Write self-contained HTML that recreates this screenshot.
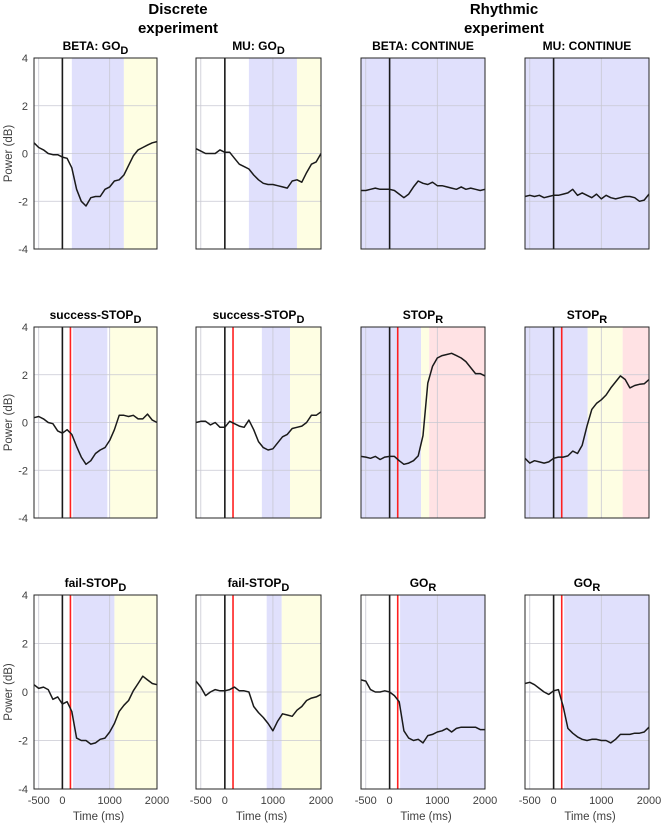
<!DOCTYPE html>
<html><head><meta charset="utf-8"><style>
body{margin:0;background:#fff;width:664px;height:828px;overflow:hidden}
svg{display:block;font-family:"Liberation Sans",Arial,sans-serif}
</style></head><body>
<svg id="fig" width="664" height="828" xmlns="http://www.w3.org/2000/svg">
<text x="178" y="14" text-anchor="middle" font-size="15" font-weight="bold" fill="#000">Discrete</text>
<text x="178" y="33" text-anchor="middle" font-size="15" font-weight="bold" fill="#000">experiment</text>
<text x="504" y="14" text-anchor="middle" font-size="15" font-weight="bold" fill="#000">Rhythmic</text>
<text x="504" y="33" text-anchor="middle" font-size="15" font-weight="bold" fill="#000">experiment</text>
</svg>
<script>
const times=[-600,-500,-400,-300,-200,-100,0,100,200,300,400,500,600,700,800,900,1000,1100,1200,1300,1400,1500,1600,1700,1800,1900,2000];
const xTicks=[-500,0,1000,2000];
const yTicks=[-4,-2,0,2,4];
const betaGoD=[0.45,0.25,0.15,0.0,-0.05,-0.05,-0.15,-0.2,-0.6,-1.5,-2.0,-2.2,-1.85,-1.8,-1.8,-1.5,-1.4,-1.15,-1.1,-0.9,-0.5,-0.1,0.15,0.25,0.35,0.45,0.5];
const muGoD=[0.2,0.1,0.0,0.0,0.0,0.15,0.05,0.05,-0.2,-0.45,-0.55,-0.65,-0.9,-1.1,-1.25,-1.3,-1.3,-1.35,-1.4,-1.45,-1.15,-1.1,-1.2,-0.8,-0.45,-0.35,0.0];
const betaCont=[-1.55,-1.55,-1.5,-1.45,-1.5,-1.5,-1.5,-1.55,-1.7,-1.85,-1.7,-1.4,-1.15,-1.25,-1.3,-1.2,-1.35,-1.35,-1.4,-1.45,-1.5,-1.4,-1.5,-1.45,-1.5,-1.55,-1.5];
const muCont=[-1.8,-1.75,-1.8,-1.75,-1.85,-1.8,-1.75,-1.75,-1.7,-1.65,-1.5,-1.75,-1.65,-1.75,-1.85,-1.7,-1.9,-1.75,-1.85,-1.9,-1.85,-1.8,-1.8,-1.85,-2.0,-1.95,-1.7];
const betaSStop=[0.2,0.25,0.15,0.0,-0.05,-0.35,-0.45,-0.3,-0.5,-1.0,-1.45,-1.75,-1.6,-1.3,-1.15,-1.05,-0.75,-0.3,0.3,0.3,0.25,0.3,0.15,0.15,0.35,0.1,0.0];
const muSStop=[0.0,0.05,0.05,-0.1,0.0,-0.2,-0.2,0.05,-0.05,-0.15,-0.2,0.1,-0.3,-0.8,-1.05,-1.15,-1.1,-0.85,-0.6,-0.5,-0.25,-0.2,-0.15,0.0,0.3,0.3,0.45];
const betaStopR=[-1.42,-1.45,-1.5,-1.42,-1.55,-1.45,-1.42,-1.42,-1.6,-1.75,-1.7,-1.6,-1.4,-0.55,1.65,2.35,2.7,2.8,2.85,2.9,2.8,2.7,2.55,2.3,2.05,2.05,1.95];
const muStopR=[-1.5,-1.7,-1.6,-1.65,-1.7,-1.65,-1.5,-1.45,-1.45,-1.4,-1.2,-1.3,-0.95,-0.15,0.55,0.8,0.95,1.15,1.45,1.7,1.95,1.8,1.45,1.55,1.6,1.62,1.8];
const betaFStop=[0.3,0.15,0.2,0.1,-0.3,-0.2,-0.5,-0.4,-0.8,-1.9,-2.0,-2.0,-2.15,-2.1,-1.95,-1.9,-1.65,-1.3,-0.8,-0.55,-0.35,0.05,0.35,0.65,0.5,0.35,0.3];
const muFStop=[0.45,0.2,-0.15,0.0,0.1,0.05,0.05,0.1,0.2,0.05,0.05,0.0,-0.6,-0.85,-1.05,-1.3,-1.6,-1.2,-0.9,-0.95,-1.0,-0.75,-0.6,-0.35,-0.25,-0.2,-0.1];
const betaGoR=[0.5,0.45,0.1,0.0,0.0,0.05,0.0,-0.15,-0.4,-1.6,-1.9,-2.0,-1.95,-2.1,-1.8,-1.75,-1.65,-1.6,-1.5,-1.65,-1.5,-1.45,-1.45,-1.45,-1.45,-1.55,-1.55];
const muGoR=[0.35,0.4,0.3,0.15,0.0,-0.1,0.05,0.1,-0.6,-1.5,-1.7,-1.85,-1.95,-2.0,-1.95,-1.95,-2.0,-2.0,-2.1,-1.95,-1.75,-1.75,-1.75,-1.7,-1.7,-1.65,-1.45];

const B='#e0e0fc',Y='#fefee3',R='#ffe2e4';
const colX=[[34,157],[196,321],[361,485],[525,649]];
const rowY=[[58,249],[327,518],[595,789]];
const panels=[
 {r:0,c:0,t:'BETA: GO',s:'D',d:betaGoD,red:false,sh:[[200,1300,B],[1300,2000,Y]]},
 {r:0,c:1,t:'MU: GO',s:'D',d:muGoD,red:false,sh:[[500,1500,B],[1500,2000,Y]]},
 {r:0,c:2,t:'BETA: CONTINUE',s:'',d:betaCont,red:false,sh:[[-600,2000,B]]},
 {r:0,c:3,t:'MU: CONTINUE',s:'',d:muCont,red:false,sh:[[-600,2000,B]]},
 {r:1,c:0,t:'success-STOP',s:'D',d:betaSStop,red:true,sh:[[220,950,B],[1000,2000,Y]]},
 {r:1,c:1,t:'success-STOP',s:'D',d:muSStop,red:true,sh:[[770,1355,B],[1355,2000,Y]]},
 {r:1,c:2,t:'STOP',s:'R',d:betaStopR,red:true,sh:[[-600,660,B],[660,830,Y],[830,2000,R]]},
 {r:1,c:3,t:'STOP',s:'R',d:muStopR,red:true,sh:[[-600,714,B],[714,1448,Y],[1448,2000,R]]},
 {r:2,c:0,t:'fail-STOP',s:'D',d:betaFStop,red:true,sh:[[225,1100,B],[1100,2000,Y]]},
 {r:2,c:1,t:'fail-STOP',s:'D',d:muFStop,red:true,sh:[[870,1183,B],[1183,2000,Y]]},
 {r:2,c:2,t:'GO',s:'R',d:betaGoR,red:true,sh:[[220,2000,B]]},
 {r:2,c:3,t:'GO',s:'R',d:muGoR,red:true,sh:[[220,2000,B]]}
];
const NS='http://www.w3.org/2000/svg';
const svg=document.getElementById('fig');
function mk(tag,attrs,parent){const e=document.createElementNS(NS,tag);for(const k in attrs)e.setAttribute(k,attrs[k]);(parent||svg).appendChild(e);return e;}
panels.forEach((p,i)=>{
 const [x0,x1]=colX[p.c],[y0,y1]=rowY[p.r];
 const sx=v=>x0+(v+600)/2600*(x1-x0);
 const sy=v=>y1-(v+4)/8*(y1-y0);
 const g=mk('g',{});
 
 
 p.sh.forEach(s=>{
  const r=mk('rect',{x:sx(s[0]),y:y0,width:sx(s[1])-sx(s[0]),height:y1-y0,fill:s[2]},g);
  
  
 });
 yTicks.forEach(v=>{const l=mk('line',{x1:x0,x2:x1,y1:sy(v),y2:sy(v),stroke:'#c8c8d2','stroke-width':0.8},g);
  });
 xTicks.forEach(v=>{const l=mk('line',{y1:y0,y2:y1,x1:sx(v),x2:sx(v),stroke:'#c8c8d2','stroke-width':0.8},g);
  });
 const z=mk('line',{x1:sx(0),x2:sx(0),y1:y0,y2:y1,stroke:'#1a1a1a','stroke-width':1.6},g);
 
 if(p.red){const rl=mk('line',{x1:sx(170),x2:sx(170),y1:y0,y2:y1,stroke:'#ff2020','stroke-width':1.6},g);
  }
 const pts=p.d.map((v,k)=>sx(times[k]).toFixed(1)+','+sy(v).toFixed(1)).join(' ');
 const pl=mk('polyline',{points:pts,fill:'none',stroke:'#1a1a1a','stroke-width':1.5,'stroke-linejoin':'round'},g);
 
 const bx=mk('rect',{x:x0,y:y0,width:x1-x0,height:y1-y0,fill:'none',stroke:'#262626','stroke-width':1},g);
 
 const t=mk('text',{x:(x0+x1)/2,y:y0-8,'text-anchor':'middle','font-size':12,'font-weight':'bold',fill:'#000'},g);
 
 t.textContent=p.t;
 if(p.s){const ts=mk('tspan',{dy:4,'font-size':11},t);ts.textContent=p.s;}
 if(p.c===0){
  yTicks.forEach(v=>{const tl=mk('text',{x:x0-6,y:sy(v)+4,'text-anchor':'end','font-size':11,fill:'#404040'},g);
   tl.textContent=v;});
  const yl=mk('text',{x:0,y:0,transform:`translate(${x0-22},${(y0+y1)/2}) rotate(-90)`,'text-anchor':'middle','font-size':11.5,fill:'#404040'},g);
  yl.textContent='Power (dB)';
 }
 if(p.r===2){
  xTicks.forEach(v=>{const tl=mk('text',{x:sx(v),y:y1+15,'text-anchor':'middle','font-size':11,fill:'#404040'},g);
   tl.textContent=v;});
  const xl=mk('text',{x:(x0+x1)/2+3,y:y1+31,'text-anchor':'middle','font-size':11.5,fill:'#404040'},g);
  xl.textContent='Time (ms)';
 }
});
</script>
</body></html>
